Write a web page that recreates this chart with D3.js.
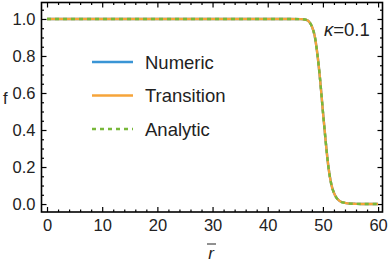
<!DOCTYPE html>
<html>
  <head>
    <meta charset="utf-8">
    <script src="https://d3js.org/d3.v7.min.js"></script>
    <style>
      body { margin: 0px; background: #fff; }
      .domain { display: none; }
      .tick line { stroke: #000; stroke-width: 1.2; }
      .tick text { fill: #222; font-size: 16.5px; font-family: 'Liberation Sans', Arial, sans-serif; }
      .lbl { fill: #222; font-family: 'Liberation Sans', Arial, sans-serif; }
    </style>
  </head>
  <body>
    <svg width="389" height="265"></svg>
    <script>
      const rValues = [0, 10, 20, 30, 40, 44, 46, 47, 47.5, 48, 48.5, 49, 49.5, 50, 50.5, 51, 51.5, 52, 52.5, 53, 54, 55, 56, 58, 60];
      const numeric = [1, 1, 1, 1, 1, 1, 0.999, 0.995, 0.985, 0.96, 0.91, 0.81, 0.67, 0.5, 0.34, 0.2, 0.11, 0.06, 0.032, 0.017, 0.006, 0.002, 0.001, 0, 0];
      const transition = [1, 1, 1, 1, 1, 1, 0.999, 0.995, 0.985, 0.96, 0.91, 0.81, 0.67, 0.5, 0.34, 0.2, 0.11, 0.06, 0.032, 0.017, 0.006, 0.002, 0.001, 0, 0];
      const analytic = [1, 1, 1, 1, 1, 1, 0.999, 0.995, 0.985, 0.96, 0.91, 0.81, 0.67, 0.5, 0.34, 0.2, 0.11, 0.06, 0.032, 0.017, 0.006, 0.002, 0.001, 0, 0];
      const seriesNames = ['Numeric', 'Transition', 'Analytic'];
      const seriesColors = ['#3a95d5', '#f6a43a', '#78b83a'];
      const xTicks = [0, 10, 20, 30, 40, 50, 60];
      const yTicks = [0, 0.2, 0.4, 0.6, 0.8, 1.0];

      const svg = d3.select('svg');
      const pLeft = 41.5, pRight = 382.5, pTop = 2.5, pBottom = 212;

      const xScale = d3.scaleLinear().domain([-1, 60.8]).range([pLeft, pRight]);
      const yScale = d3.scaleLinear().domain([-0.043, 1.089]).range([pBottom, pTop]);

      const xMinor = d3.range(0, 61, 2).filter(v => v % 10 !== 0);
      const yMinor = d3.range(0, 22).map(i => +(i * 0.05).toFixed(2)).filter(v => Math.round(v * 100) % 20 !== 0);

      // minor ticks on all four sides
      const fmtNone = () => '';
      svg.append('g').attr('transform', `translate(0,${pBottom})`)
        .call(d3.axisBottom(xScale).tickValues(xMinor).tickSize(-2.5).tickFormat(fmtNone));
      svg.append('g').attr('transform', `translate(0,${pTop})`)
        .call(d3.axisTop(xScale).tickValues(xMinor).tickSize(-2.5).tickFormat(fmtNone));
      svg.append('g').attr('transform', `translate(${pLeft},0)`)
        .call(d3.axisLeft(yScale).tickValues(yMinor).tickSize(-2.5).tickFormat(fmtNone));
      svg.append('g').attr('transform', `translate(${pRight},0)`)
        .call(d3.axisRight(yScale).tickValues(yMinor).tickSize(-2.5).tickFormat(fmtNone));

      // major ticks
      svg.append('g').attr('transform', `translate(0,${pBottom})`)
        .call(d3.axisBottom(xScale).tickValues(xTicks).tickSize(-5).tickPadding(7).tickFormat(d3.format('d')));
      svg.append('g').attr('transform', `translate(0,${pTop})`)
        .call(d3.axisTop(xScale).tickValues(xTicks).tickSize(-5).tickFormat(fmtNone));
      svg.append('g').attr('transform', `translate(${pLeft},0)`)
        .call(d3.axisLeft(yScale).tickValues(yTicks).tickSize(-5).tickPadding(6).tickFormat(d3.format('.1f')));
      svg.append('g').attr('transform', `translate(${pRight},0)`)
        .call(d3.axisRight(yScale).tickValues(yTicks).tickSize(-5).tickFormat(fmtNone));

      // curves
      const series = [numeric, transition, analytic];
      const line = d3.line()
        .x((d, i) => xScale(rValues[i]))
        .y(d => yScale(d))
        .curve(d3.curveMonotoneX);
      const plot = svg.append('g');
      series.forEach((vals, k) => {
        plot.append('path')
          .attr('d', line(vals))
          .attr('fill', 'none')
          .attr('stroke', seriesColors[k])
          .attr('stroke-width', 2.4)
          .attr('stroke-dasharray', k === 2 ? '4,4' : null);
      });

      // frame
      svg.append('rect')
        .attr('x', pLeft).attr('y', pTop)
        .attr('width', pRight - pLeft).attr('height', pBottom - pTop)
        .attr('fill', 'none').attr('stroke', '#000').attr('stroke-width', 1.6);

      // legend
      const legend = svg.append('g');
      seriesNames.forEach((name, k) => {
        const y = 62 + k * 33.5;
        legend.append('line')
          .attr('x1', 92).attr('x2', 133).attr('y1', y).attr('y2', y)
          .attr('stroke', seriesColors[k]).attr('stroke-width', 2.4)
          .attr('stroke-dasharray', k === 2 ? '4,4' : null);
        legend.append('text').attr('class', 'lbl')
          .attr('x', 145).attr('y', y + 6.5)
          .style('font-size', '18.5px')
          .text(name);
      });

      // labels
      svg.append('text').attr('class', 'lbl')
        .attr('x', 3).attr('y', 104).style('font-size', '16.5px').text('f');
      svg.append('text').attr('class', 'lbl')
        .attr('x', 211).attr('y', 259).attr('text-anchor', 'middle')
        .style('font-size', '17px').style('font-style', 'italic')
        .text('r');
      svg.append('line')
        .attr('x1', 207).attr('x2', 216).attr('y1', 244).attr('y2', 244)
        .attr('stroke', '#222').attr('stroke-width', 1);

      const kLbl = svg.append('text').attr('class', 'lbl')
        .attr('x', 324).attr('y', 36).style('font-size', '18.5px');
      kLbl.append('tspan').style('font-style', 'italic').text('κ');
      kLbl.append('tspan').text('=0.1');
    </script>
  </body>
</html>
